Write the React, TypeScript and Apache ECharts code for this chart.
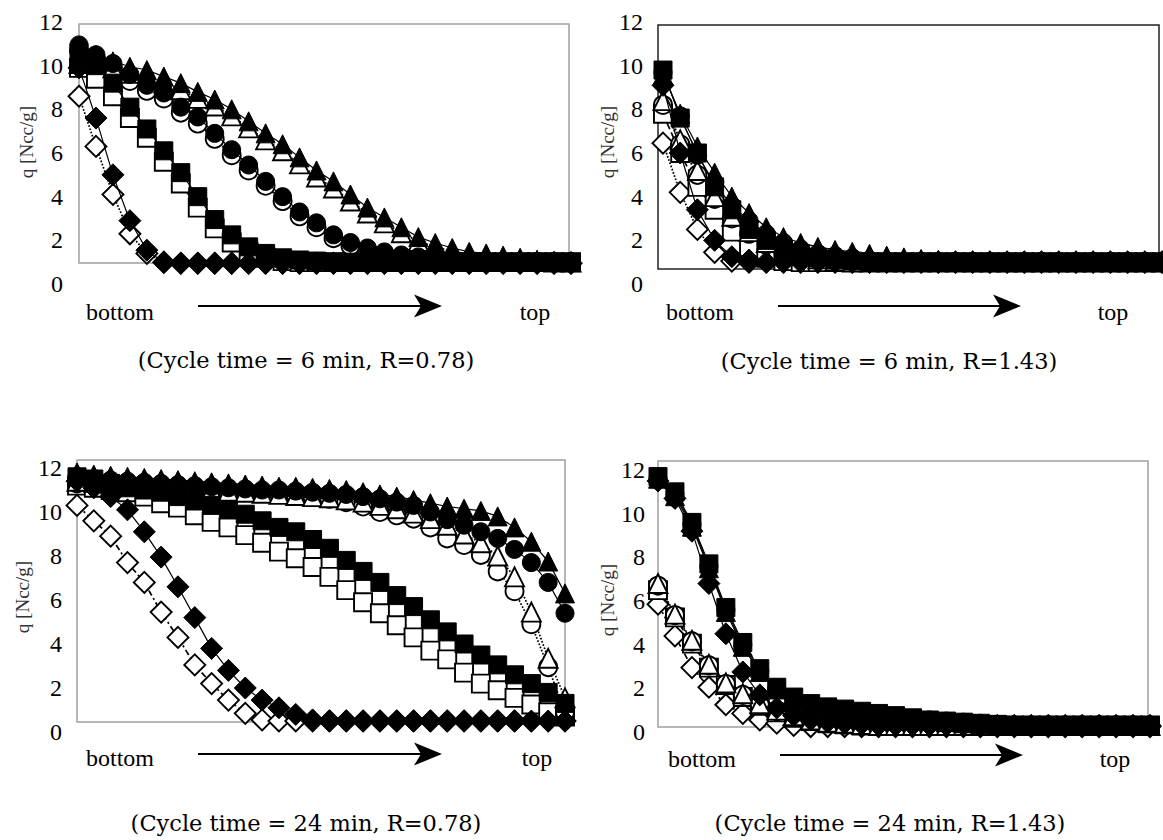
import React, { useEffect, useRef } from "react";
import * as echarts from "echarts";

// ---------- data (index 0 = bottom of column, 29 = top) ----------
const positions = [0,1,2,3,4,5,6,7,8,9,10,11,12,13,14,15,16,17,18,19,20,21,22,23,24,25,26,27,28,29];
const yTicks = [0, 2, 4, 6, 8, 10, 12];

const titles = [
  "(Cycle time = 6 min, R=0.78)",
  "(Cycle time = 6 min, R=1.43)",
  "(Cycle time = 24 min, R=0.78)",
  "(Cycle time = 24 min, R=1.43)",
];

// Panel A: 6 min, R=0.78
const fdA = [9.9,7.6,5.0,2.9,1.55,0.98,0.95,0.95,0.95,0.95,0.95,0.95,0.95,0.95,0.95,0.95,0.95,0.95,0.95,0.95,0.95,0.95,0.95,0.95,0.95,0.95,0.95,0.95,0.95,0.95];
const odA = [8.6,6.3,4.1,2.3,1.4,1.0,0.95,0.95,0.95,0.95,0.95,0.95,0.95,0.95,0.95,0.95,0.95,0.95,0.95,0.95,0.95,0.95,0.95,0.95,0.95,0.95,0.95,0.95,0.95,0.95];
const fsA = [10.6,10.0,9.2,8.1,7.1,6.1,5.1,4.0,2.95,2.25,1.7,1.4,1.2,1.1,1.05,1.0,1.0,1.0,1.0,1.0,1.0,1.0,1.0,1.0,1.0,1.0,1.0,1.0,1.0,1.0];
const osA = [9.9,9.4,8.6,7.6,6.7,5.6,4.6,3.5,2.55,1.9,1.45,1.2,1.05,1.0,1.0,1.0,1.0,1.0,1.0,1.0,1.0,1.0,1.0,1.0,1.0,1.0,1.0,1.0,1.0,1.0];
const fcA = [10.95,10.5,10.1,9.6,9.1,8.75,8.1,7.65,6.9,6.15,5.45,4.7,4.0,3.3,2.8,2.25,1.9,1.65,1.47,1.33,1.24,1.15,1.1,1.05,1.0,1.0,1.0,1.0,1.0,1.0];
const ocA = [10.7,10.3,9.9,9.3,8.85,8.5,7.85,7.35,6.65,5.9,5.2,4.5,3.8,3.1,2.6,2.1,1.75,1.5,1.35,1.25,1.15,1.1,1.05,1.0,1.0,1.0,1.0,1.0,1.0,1.0];
const ftA = [10.4,10.5,10.2,9.95,9.8,9.5,9.2,8.8,8.45,8.0,7.45,6.9,6.4,5.8,5.2,4.7,4.1,3.5,3.05,2.6,2.15,1.88,1.65,1.47,1.4,1.3,1.2,1.1,1.05,1.0];
const otA = [10.1,10.2,9.9,9.65,9.5,9.2,8.9,8.5,8.15,7.7,7.15,6.6,6.1,5.5,4.9,4.4,3.8,3.25,2.8,2.35,1.95,1.7,1.5,1.35,1.25,1.15,1.1,1.05,1.0,1.0];

// Panel B: 6 min, R=1.43
const fdB = [9.1,6.0,3.4,2.0,1.25,1.1,1.0,1.0,1.0,1.0,1.0,1.0,1.0,1.0,1.0,1.0,1.0,1.0,1.0,1.0,1.0,1.0,1.0,1.0,1.0,1.0,1.0,1.0,1.0,1.0];
const odB = [6.45,4.2,2.5,1.45,1.05,1.0,1.0,1.0,1.0,1.0,1.0,1.0,1.0,1.0,1.0,1.0,1.0,1.0,1.0,1.0,1.0,1.0,1.0,1.0,1.0,1.0,1.0,1.0,1.0,1.0];
const fsB = [9.8,7.6,6.0,4.45,3.4,2.5,2.0,1.6,1.35,1.2,1.1,1.05,1.0,1.0,1.0,1.0,1.0,1.0,1.0,1.0,1.0,1.0,1.0,1.0,1.0,1.0,1.0,1.0,1.0,1.0];
const osB = [7.8,6.0,4.45,3.4,2.4,1.56,1.2,1.05,1.0,1.0,1.0,1.0,1.0,1.0,1.0,1.0,1.0,1.0,1.0,1.0,1.0,1.0,1.0,1.0,1.0,1.0,1.0,1.0,1.0,1.0];
const fcB = [9.7,7.7,5.9,4.6,3.6,2.9,2.3,1.9,1.6,1.4,1.3,1.2,1.1,1.05,1.0,1.0,1.0,1.0,1.0,1.0,1.0,1.0,1.0,1.0,1.0,1.0,1.0,1.0,1.0,1.0];
const ocB = [8.2,6.4,5.0,3.9,3.0,2.3,1.8,1.45,1.25,1.1,1.05,1.0,1.0,1.0,1.0,1.0,1.0,1.0,1.0,1.0,1.0,1.0,1.0,1.0,1.0,1.0,1.0,1.0,1.0,1.0];
const ftB = [9.6,7.8,6.3,5.1,4.0,3.25,2.6,2.15,1.88,1.7,1.56,1.47,1.38,1.3,1.22,1.15,1.1,1.05,1.0,1.0,1.0,1.0,1.0,1.0,1.0,1.0,1.0,1.0,1.0,1.0];
const otB = [8.4,6.6,5.2,4.0,3.1,2.4,1.9,1.55,1.3,1.15,1.05,1.0,1.0,1.0,1.0,1.0,1.0,1.0,1.0,1.0,1.0,1.0,1.0,1.0,1.0,1.0,1.0,1.0,1.0,1.0];

// Panel C: 24 min, R=0.78
const fdC = [11.4,11.1,10.7,10.1,9.1,7.95,6.6,5.2,3.8,2.8,2.0,1.45,1.1,0.8,0.55,0.5,0.5,0.5,0.5,0.5,0.5,0.5,0.5,0.5,0.5,0.5,0.5,0.5,0.5,0.5];
const odC = [10.3,9.6,8.9,7.7,6.8,5.45,4.3,3.05,2.2,1.45,0.85,0.55,0.5,0.5,0.5,0.5,0.5,0.5,0.5,0.5,0.5,0.5,0.5,0.5,0.5,0.5,0.5,0.5,0.5,0.5];
const fsC = [11.6,11.5,11.3,11.1,11.0,10.9,10.7,10.5,10.3,10.1,9.9,9.6,9.3,9.1,8.75,8.35,7.8,7.3,6.8,6.2,5.7,5.1,4.55,4.0,3.5,3.05,2.6,2.2,1.8,1.3];
const osC = [11.2,11.1,11.0,10.9,10.7,10.4,10.2,9.85,9.55,9.3,8.95,8.6,8.2,7.9,7.5,7.05,6.45,5.9,5.4,4.85,4.3,3.7,3.3,2.7,2.2,1.9,1.55,1.25,0.9,0.7];
const fcC = [11.6,11.5,11.45,11.4,11.35,11.3,11.25,11.2,11.15,11.1,11.05,11.0,11.0,10.95,10.9,10.85,10.8,10.7,10.6,10.45,10.3,10.0,9.65,9.4,9.1,8.8,8.3,7.7,6.8,5.4];
const ocC = [11.3,11.25,11.2,11.15,11.1,11.1,11.05,11.0,11.0,10.95,10.95,10.9,10.85,10.8,10.7,10.6,10.45,10.25,10.0,9.85,9.7,9.3,8.8,8.5,8.05,7.3,6.4,4.9,2.95,0.9];
const ftC = [11.8,11.7,11.65,11.6,11.55,11.5,11.45,11.4,11.35,11.3,11.25,11.2,11.15,11.15,11.1,11.05,11.0,10.9,10.8,10.7,10.55,10.4,10.25,10.15,10.05,9.8,9.3,8.65,7.75,6.3];
const otC = [11.4,11.35,11.3,11.25,11.2,11.15,11.1,11.05,11.0,10.95,10.9,10.85,10.8,10.75,10.7,10.65,10.55,10.45,10.3,10.15,9.95,9.7,9.4,9.0,8.6,8.0,7.05,5.45,3.35,1.55];

// Panel D: 24 min, R=1.43
const fdD = [11.5,10.7,9.2,6.8,4.5,2.75,1.7,1.1,0.75,0.55,0.45,0.4,0.35,0.3,0.3,0.3,0.3,0.3,0.3,0.3,0.3,0.3,0.3,0.3,0.3,0.3,0.3,0.3,0.3,0.3];
const odD = [5.85,4.4,2.95,2.05,1.25,0.85,0.55,0.4,0.3,0.25,0.25,0.25,0.25,0.25,0.25,0.25,0.25,0.25,0.25,0.25,0.25,0.25,0.25,0.25,0.25,0.25,0.25,0.25,0.25,0.25];
const fsD = [11.7,11.0,9.6,7.7,5.7,4.1,2.9,2.05,1.6,1.3,1.15,1.05,0.95,0.85,0.75,0.65,0.55,0.5,0.45,0.4,0.35,0.3,0.3,0.3,0.3,0.3,0.3,0.3,0.3,0.3];
const osD = [6.5,5.25,4.05,2.95,2.15,1.6,1.2,0.9,0.65,0.5,0.4,0.35,0.3,0.3,0.3,0.3,0.3,0.3,0.3,0.3,0.3,0.3,0.3,0.3,0.3,0.3,0.3,0.3,0.3,0.3];
const fcD = [11.6,10.9,9.5,7.6,5.6,4.0,2.8,2.0,1.55,1.25,1.1,1.0,0.9,0.8,0.7,0.62,0.55,0.5,0.45,0.4,0.35,0.3,0.3,0.3,0.3,0.3,0.3,0.3,0.3,0.3];
const ocD = [6.7,5.35,4.15,3.05,2.2,1.7,1.25,0.95,0.7,0.55,0.45,0.35,0.3,0.3,0.3,0.3,0.3,0.3,0.3,0.3,0.3,0.3,0.3,0.3,0.3,0.3,0.3,0.3,0.3,0.3];
const ftD = [11.6,10.8,9.4,7.5,5.5,3.9,2.75,1.95,1.5,1.2,1.05,0.95,0.85,0.75,0.65,0.6,0.5,0.45,0.4,0.35,0.3,0.3,0.3,0.3,0.3,0.3,0.3,0.3,0.3,0.3];
const otD = [6.8,5.4,4.2,3.1,2.25,1.75,1.3,1.0,0.75,0.55,0.45,0.4,0.35,0.3,0.3,0.3,0.3,0.3,0.3,0.3,0.3,0.3,0.3,0.3,0.3,0.3,0.3,0.3,0.3,0.3];

const panelData = [
  { od: odA, os: osA, oc: ocA, ot: otA, fd: fdA, fs: fsA, fc: fcA, ft: ftA },
  { od: odB, os: osB, oc: ocB, ot: otB, fd: fdB, fs: fsB, fc: fcB, ft: ftB },
  { od: odC, os: osC, oc: ocC, ot: otC, fd: fdC, fs: fsC, fc: fcC, ft: ftC },
  { od: odD, os: osD, oc: ocD, ot: otD, fd: fdD, fs: fsD, fc: fcD, ft: ftD },
];

// ---------- layout ----------
const SERIF = "'Liberation Serif', 'Times New Roman', serif";
const layout = [
  { grid: { left: 79, top: 22, width: 492, height: 262 }, frame: { left: 79, top: 24, width: 490, height: 239 }, frameColor: "#a0a0a0", margin: 16,
    yName: [26, 142], bottom: [120, 312], top: [535, 312], arrow: [198, 442, 306], title: [306, 360], odDash: "dotted" },
  { grid: { left: 663, top: 22, width: 499, height: 262 }, frame: { left: 658, top: 25, width: 501, height: 244 }, frameColor: "#222", margin: 20,
    yName: [607, 142], bottom: [700, 312], top: [1113, 312], arrow: [778, 1021, 306], title: [889, 361], odDash: "dotted" },
  { grid: { left: 77, top: 468, width: 488, height: 264 }, frame: { left: 77, top: 460, width: 488, height: 262 }, frameColor: "#a0a0a0", margin: 15,
    yName: [22, 597], bottom: [120, 758], top: [537, 758], arrow: [198, 442, 754], title: [306, 823], odDash: [6, 3, 2, 3] },
  { grid: { left: 658, top: 470, width: 492, height: 262 }, frame: { left: 658, top: 461, width: 490, height: 266 }, frameColor: "#a0a0a0", margin: 13,
    yName: [607, 600], bottom: [702, 759], top: [1115, 759], arrow: [780, 1023, 755], title: [890, 823], odDash: [6, 3, 2, 3] },
];

const seriesDefs = [
  { key: "od", symbol: "diamond", size: 21, filled: false, dash: "od" },
  { key: "os", symbol: "rect", size: 18, filled: false, dash: "dashed" },
  { key: "oc", symbol: "circle", size: 18, filled: false, dash: "dotted" },
  { key: "ot", symbol: "triangle", size: 19, filled: false, dash: "dotted" },
  { key: "fd", symbol: "diamond", size: 22, filled: true, dash: "solid" },
  { key: "fs", symbol: "rect", size: 18, filled: true, dash: "solid" },
  { key: "fc", symbol: "circle", size: 18, filled: true, dash: "solid" },
  { key: "ft", symbol: "triangle", size: 19, filled: true, dash: "solid" },
];

function buildOption() {
  const grids: any[] = [];
  const xAxes: any[] = [];
  const yAxes: any[] = [];
  const series: any[] = [];
  const graphics: any[] = [];

  layout.forEach((L, p) => {
    // frame grid (drawn first)
    grids.push({ ...L.frame, show: true, borderColor: L.frameColor, borderWidth: 1.5, backgroundColor: "transparent", z: 0 });
    xAxes.push({ gridIndex: 2 * p, type: "value", show: false, min: 0, max: 1 });
    yAxes.push({ gridIndex: 2 * p, type: "value", show: false, min: 0, max: 1 });
    // data grid
    grids.push({ ...L.grid, show: false });
    xAxes.push({ gridIndex: 2 * p + 1, type: "value", show: false, min: 0, max: positions.length - 1 });
    yAxes.push({
      gridIndex: 2 * p + 1, type: "value", min: yTicks[0], max: yTicks[yTicks.length - 1], interval: 2,
      axisLine: { show: false }, axisTick: { show: false }, splitLine: { show: false },
      axisLabel: { show: true, margin: L.margin, fontFamily: SERIF, fontSize: 24, color: "#000" },
    });

    const d: any = panelData[p];
    seriesDefs.forEach((s) => {
      const vals: number[] = d[s.key];
      const dashType = s.dash === "od" ? L.odDash : s.dash;
      series.push({
        type: "line",
        xAxisIndex: 2 * p + 1,
        yAxisIndex: 2 * p + 1,
        data: positions.map((x, i) => [x, vals[i]]),
        symbol: s.symbol,
        symbolSize: s.size,
        showSymbol: true,
        clip: false,
        silent: true,
        z: s.filled ? 4 : 3,
        itemStyle: s.filled
          ? { color: "#000", borderColor: "#000", borderWidth: 1 }
          : { color: "#fff", borderColor: "#000", borderWidth: 1.9 },
        lineStyle: { color: "#000", width: s.filled ? 1.2 : 1.7, type: dashType },
      });
    });

    // annotation texts
    graphics.push({
      type: "text", x: L.yName[0], y: L.yName[1], rotation: Math.PI / 2,
      style: { text: "q [Ncc/g]", fontFamily: SERIF, fontSize: 19, fill: "#333", align: "center", verticalAlign: "middle" },
    });
    graphics.push({
      type: "text", x: L.bottom[0], y: L.bottom[1],
      style: { text: "bottom", fontFamily: SERIF, fontSize: 24, fill: "#000", align: "center", verticalAlign: "middle" },
    });
    graphics.push({
      type: "text", x: L.top[0], y: L.top[1],
      style: { text: "top", fontFamily: SERIF, fontSize: 24, fill: "#000", align: "center", verticalAlign: "middle" },
    });
    const [ax1, ax2, ay] = L.arrow;
    graphics.push({
      type: "line", shape: { x1: ax1, y1: ay, x2: ax2 - 14, y2: ay },
      style: { stroke: "#000", lineWidth: 2 },
    });
    graphics.push({
      type: "polygon",
      shape: { points: [[ax2, ay], [ax2 - 28, ay - 11.5], [ax2 - 21, ay], [ax2 - 28, ay + 11.5]] },
      style: { fill: "#000" },
    });
    graphics.push({
      type: "text", x: L.title[0], y: L.title[1],
      style: { text: titles[p], fontFamily: "'DejaVu Serif', serif", fontSize: 22.5, fill: "#000", align: "center", verticalAlign: "middle" },
    });
  });

  return {
    animation: false,
    backgroundColor: "#fff",
    grid: grids,
    xAxis: xAxes,
    yAxis: yAxes,
    series,
    graphic: graphics,
  };
}

export default function App() {
  const ref = useRef<HTMLDivElement>(null);
  useEffect(() => {
    if (!ref.current) return;
    const chart = echarts.init(ref.current, undefined, { renderer: "svg" });
    chart.setOption(buildOption() as any);
    return () => chart.dispose();
  }, []);
  return (
    <div
      ref={ref}
      style={{ position: "absolute", left: 0, top: 0, width: 1163, height: 840, background: "#fff" }}
    />
  );
}
